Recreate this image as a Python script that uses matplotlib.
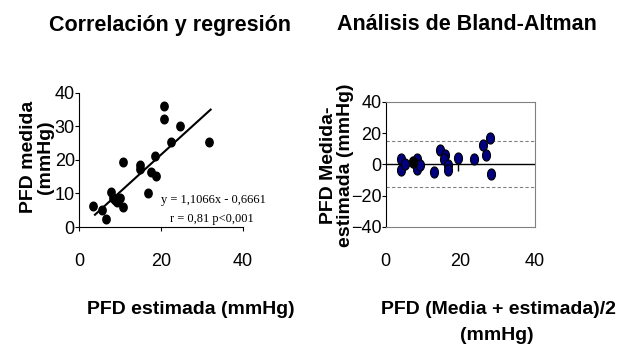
import matplotlib.pyplot as plt
import numpy as np
from matplotlib.path import Path

plt.rcParams['font.family'] = ['Liberation Sans', 'DejaVu Sans']

# correlation data (PFD estimada vs PFD medida)
est = [3.5, 5.6, 6.6, 7.8, 8.2, 8.8, 9.2, 10.0, 10.7, 10.7, 14.9, 14.9, 16.8,
       17.6, 18.6, 18.9, 20.7, 20.7, 22.4, 24.6, 31.8]
med = [6.2, 5.2, 2.5, 10.4, 8.5, 8.0, 7.5, 8.5, 6.0, 19.5, 18.4, 17.4, 10.1,
       16.4, 21.1, 15.1, 36.0, 32.3, 25.4, 30.0, 25.3]
slope, intercept = 1.1066, -0.6661
fit_range = [3.9, 32.2]

# Bland-Altman data
ba_mean = [4.1, 4.0, 5.2, 8.5, 8.3, 9.1, 12.9, 14.6, 16.0, 15.7, 16.7,
           16.7, 19.4, 23.6, 26.0, 27.0, 28.0, 28.3]
ba_diff = [3.6, -3.4, 0.4, 3.6, -3.2, -0.2, -4.9, 9.4, 5.8, 3.2, -0.2,
           -3.9, 4.1, 3.6, 12.2, 6.2, 17.0, -6.4]
ba_black = [7.4, 1.2]          # one point drawn in black
ba_stick = [19.4, -4.5, 4.1]   # stray vertical stroke under one point
limits = [15.0, -14.3]


def ellipse_marker(w, h):
    t = np.linspace(0, 2 * np.pi, 40)
    verts = np.c_[w / 2 * np.cos(t), h / 2 * np.sin(t)]
    return Path(verts, closed=True)


fig = plt.figure(figsize=(6.33, 3.45), dpi=100)

# left: correlation
ax1 = fig.add_axes([79 / 633, 1 - 227 / 345, 163.5 / 633, 134.3 / 345])
ax1.plot(est, med, linestyle='none', marker=ellipse_marker(0.85, 1.0),
         markersize=6.2, color='black')
xs = np.array(fit_range)
ax1.plot(xs, slope * xs + intercept, color='black', lw=1.5)
ax1.set_xlim(0, 40)
ax1.set_ylim(0, 40)
ax1.spines['top'].set_visible(False)
ax1.spines['right'].set_visible(False)
ax1.set_xticks([0, 20, 40])
ax1.set_yticks([0, 10, 20, 30, 40])
ax1.tick_params(axis='x', length=3, pad=16, labelsize=13)
ax1.tick_params(axis='y', length=3, pad=0, labelsize=13)
ax1.text(20.1, 8.0, 'y = 1,1066x - 0,6661', family='Liberation Serif',
         fontsize=9, va='center')
ax1.text(22.3, 2.4, 'r = 0,81 p<0,001', family='Liberation Serif',
         fontsize=9, va='center')

# right: Bland-Altman
ax2 = fig.add_axes([385.7 / 633, 1 - 226.7 / 345, 149.3 / 633, 124.7 / 345])
ax2.axhline(0, color='black', lw=1)
for lim in limits:
    ax2.axhline(lim, color='#808080', lw=0.8, ls=(0, (3, 2)))
ax2.vlines(ba_stick[0], ba_stick[1], ba_stick[2], color='black', lw=1)
ax2.plot(ba_mean, ba_diff, linestyle='none', marker=ellipse_marker(0.72, 1.0),
         markersize=8, markerfacecolor='#000080', markeredgecolor='black',
         markeredgewidth=0.8)
ax2.plot(ba_black[0], ba_black[1], linestyle='none',
         marker=ellipse_marker(0.72, 1.0), markersize=8, color='black')
ax2.set_xlim(0, 40)
ax2.set_ylim(-40, 40)
for s in ['top', 'right', 'bottom']:
    ax2.spines[s].set_color('#808080')
ax2.spines['left'].set_color('black')
ax2.set_xticks([0, 20, 40])
ax2.set_yticks([-40, -20, 0, 20, 40])
ax2.tick_params(axis='x', length=0, pad=19, labelsize=13)
ax2.tick_params(axis='y', length=3, pad=0, labelsize=13)

# titles and labels
fig.text(170 / 633, 1 - 25 / 345, 'Correlación y regresión', ha='center',
         va='center', fontsize=15.5, fontweight='bold')
fig.text(467 / 633, 1 - 25 / 345, 'Análisis de Bland-Altman', ha='center',
         va='center', fontsize=15.5, fontweight='bold')
fig.text(37 / 633, 1 - 157 / 345, 'PFD medida\n(mmHg)', rotation=90,
         ha='center', va='center', fontsize=14, fontweight='bold',
         linespacing=0.95)
fig.text(337 / 633, 1 - 165 / 345, 'PFD Medida-\nestimada (mmHg)', rotation=90,
         ha='center', va='center', fontsize=14, fontweight='bold',
         linespacing=0.95)
fig.text(191 / 633, 1 - 310 / 345, 'PFD estimada (mmHg)', ha='center',
         va='center', fontsize=14, fontweight='bold')
fig.text(498 / 633, 1 - 310 / 345, 'PFD (Media + estimada)/2',
         ha='center', va='center', fontsize=14, fontweight='bold')
fig.text(497 / 633, 1 - 336 / 345, '(mmHg)',
         ha='center', va='center', fontsize=14, fontweight='bold')

fig.savefig('out.png', dpi=100)
